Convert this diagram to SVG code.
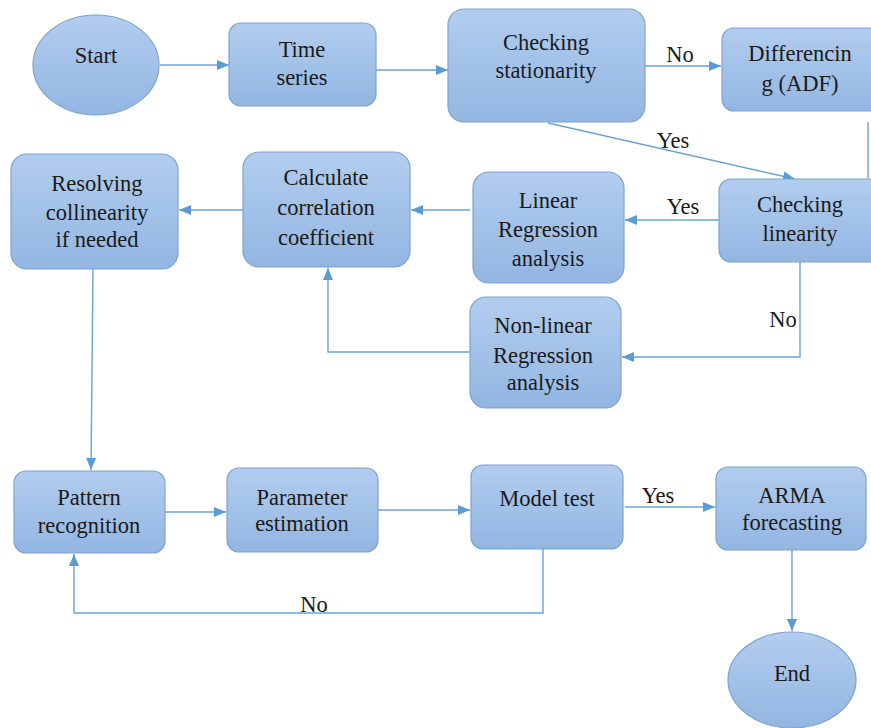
<svg xmlns="http://www.w3.org/2000/svg" width="871" height="728" viewBox="0 0 871 728">
<style>
.n{fill:url(#g);stroke:#7ea2cf;stroke-width:1.2}
.t{font-size:22.5px;fill:#1a1a1a;text-anchor:middle}
.c{fill:none;stroke:#6aa3d8;stroke-width:1.4}
.a{marker-end:url(#ah)}
</style>
<defs>
<linearGradient id="g" x1="0" y1="0" x2="0" y2="1">
<stop offset="0" stop-color="#b2cdee"/>
<stop offset="1" stop-color="#92b6e2"/>
</linearGradient>
<marker id="ah" markerWidth="12" markerHeight="10" refX="12" refY="5" orient="auto" markerUnits="userSpaceOnUse">
<path d="M0,0 L12,5 L0,10 Z" fill="#5b9bd5"/>
</marker>
</defs>
<rect width="871" height="728" fill="#fff"/>
<g font-family="Liberation Serif, DejaVu Serif, serif">
<g id="connectors">
<line class="c a" x1="160" y1="65" x2="229" y2="65"/>
<line class="c a" x1="376" y1="70" x2="448" y2="70"/>
<line class="c a" x1="645" y1="66" x2="721" y2="66"/>
<text class="t" x="680" y="62">No</text>
<line class="c" x1="868" y1="122" x2="868" y2="178"/>
<line class="c a" x1="548" y1="123" x2="795" y2="179"/>
<text class="t" x="673" y="148">Yes</text>
<line class="c a" x1="719" y1="220" x2="625" y2="220"/>
<text class="t" x="683" y="214">Yes</text>
<line class="c a" x1="470" y1="210" x2="411" y2="210"/>
<line class="c a" x1="243" y1="210" x2="179" y2="210"/>
<polyline class="c a" points="800,262 800,357 622,357"/>
<text class="t" x="783" y="327">No</text>
<polyline class="c a" points="470,352 328,352 328,268"/>
<line class="c a" x1="93" y1="269" x2="91" y2="470"/>
<line class="c a" x1="165" y1="512" x2="226" y2="512"/>
<line class="c a" x1="378" y1="510" x2="470" y2="510"/>
<line class="c a" x1="625" y1="507" x2="715" y2="507"/>
<text class="t" x="658" y="503">Yes</text>
<line class="c a" x1="792" y1="550" x2="792" y2="631"/>
<polyline class="c a" points="543,549 543,613 74,613 74,554"/>
<text class="t" x="314" y="612">No</text>
</g>
<g id="start"><ellipse class="n" cx="96" cy="65" rx="63" ry="50"/><text class="t" x="96" y="63">Start</text></g>
<g id="time-series"><rect class="n" x="229" y="23" width="147" height="83" rx="12"/><text class="t" x="302" y="57">Time</text><text class="t" x="302" y="85">series</text></g>
<g id="checking-stationarity"><rect class="n" x="448" y="9" width="197" height="113" rx="16"/><text class="t" x="546" y="50">Checking</text><text class="t" x="546" y="78">stationarity</text></g>
<g id="differencing"><rect class="n" x="722" y="28" width="160" height="83" rx="12"/><text class="t" x="800" y="61">Differencin</text><text class="t" x="800" y="91">g (ADF)</text></g>
<g id="checking-linearity"><rect class="n" x="719" y="179" width="163" height="83" rx="12"/><text class="t" x="800" y="212">Checking</text><text class="t" x="800" y="241">linearity</text></g>
<g id="linear-regression"><rect class="n" x="473" y="172" width="151" height="111" rx="16"/><text class="t" x="548" y="208">Linear</text><text class="t" x="548" y="237">Regression</text><text class="t" x="548" y="266">analysis</text></g>
<g id="calculate-correlation"><rect class="n" x="243" y="152" width="167" height="115" rx="16"/><text class="t" x="326" y="185">Calculate</text><text class="t" x="326" y="215">correlation</text><text class="t" x="326" y="245">coefficient</text></g>
<g id="resolving-collinearity"><rect class="n" x="11" y="154" width="167" height="115" rx="16"/><text class="t" x="97" y="191">Resolving</text><text class="t" x="97" y="220">collinearity</text><text class="t" x="97" y="247">if needed</text></g>
<g id="nonlinear-regression"><rect class="n" x="470" y="297" width="151" height="111" rx="16"/><text class="t" x="543" y="333">Non-linear</text><text class="t" x="543" y="363">Regression</text><text class="t" x="543" y="390">analysis</text></g>
<g id="pattern-recognition"><rect class="n" x="14" y="471" width="151" height="82" rx="12"/><text class="t" x="89" y="505">Pattern</text><text class="t" x="89" y="533">recognition</text></g>
<g id="parameter-estimation"><rect class="n" x="227" y="468" width="151" height="84" rx="12"/><text class="t" x="302" y="505">Parameter</text><text class="t" x="302" y="531">estimation</text></g>
<g id="model-test"><rect class="n" x="471" y="465" width="152" height="84" rx="12"/><text class="t" x="547" y="506">Model test</text></g>
<g id="arma-forecasting"><rect class="n" x="716" y="467" width="150" height="83" rx="12"/><text class="t" x="792" y="503">ARMA</text><text class="t" x="792" y="530">forecasting</text></g>
<g id="end"><ellipse class="n" cx="792" cy="680" rx="64" ry="48"/><text class="t" x="792" y="681">End</text></g>
</g>
</svg>
